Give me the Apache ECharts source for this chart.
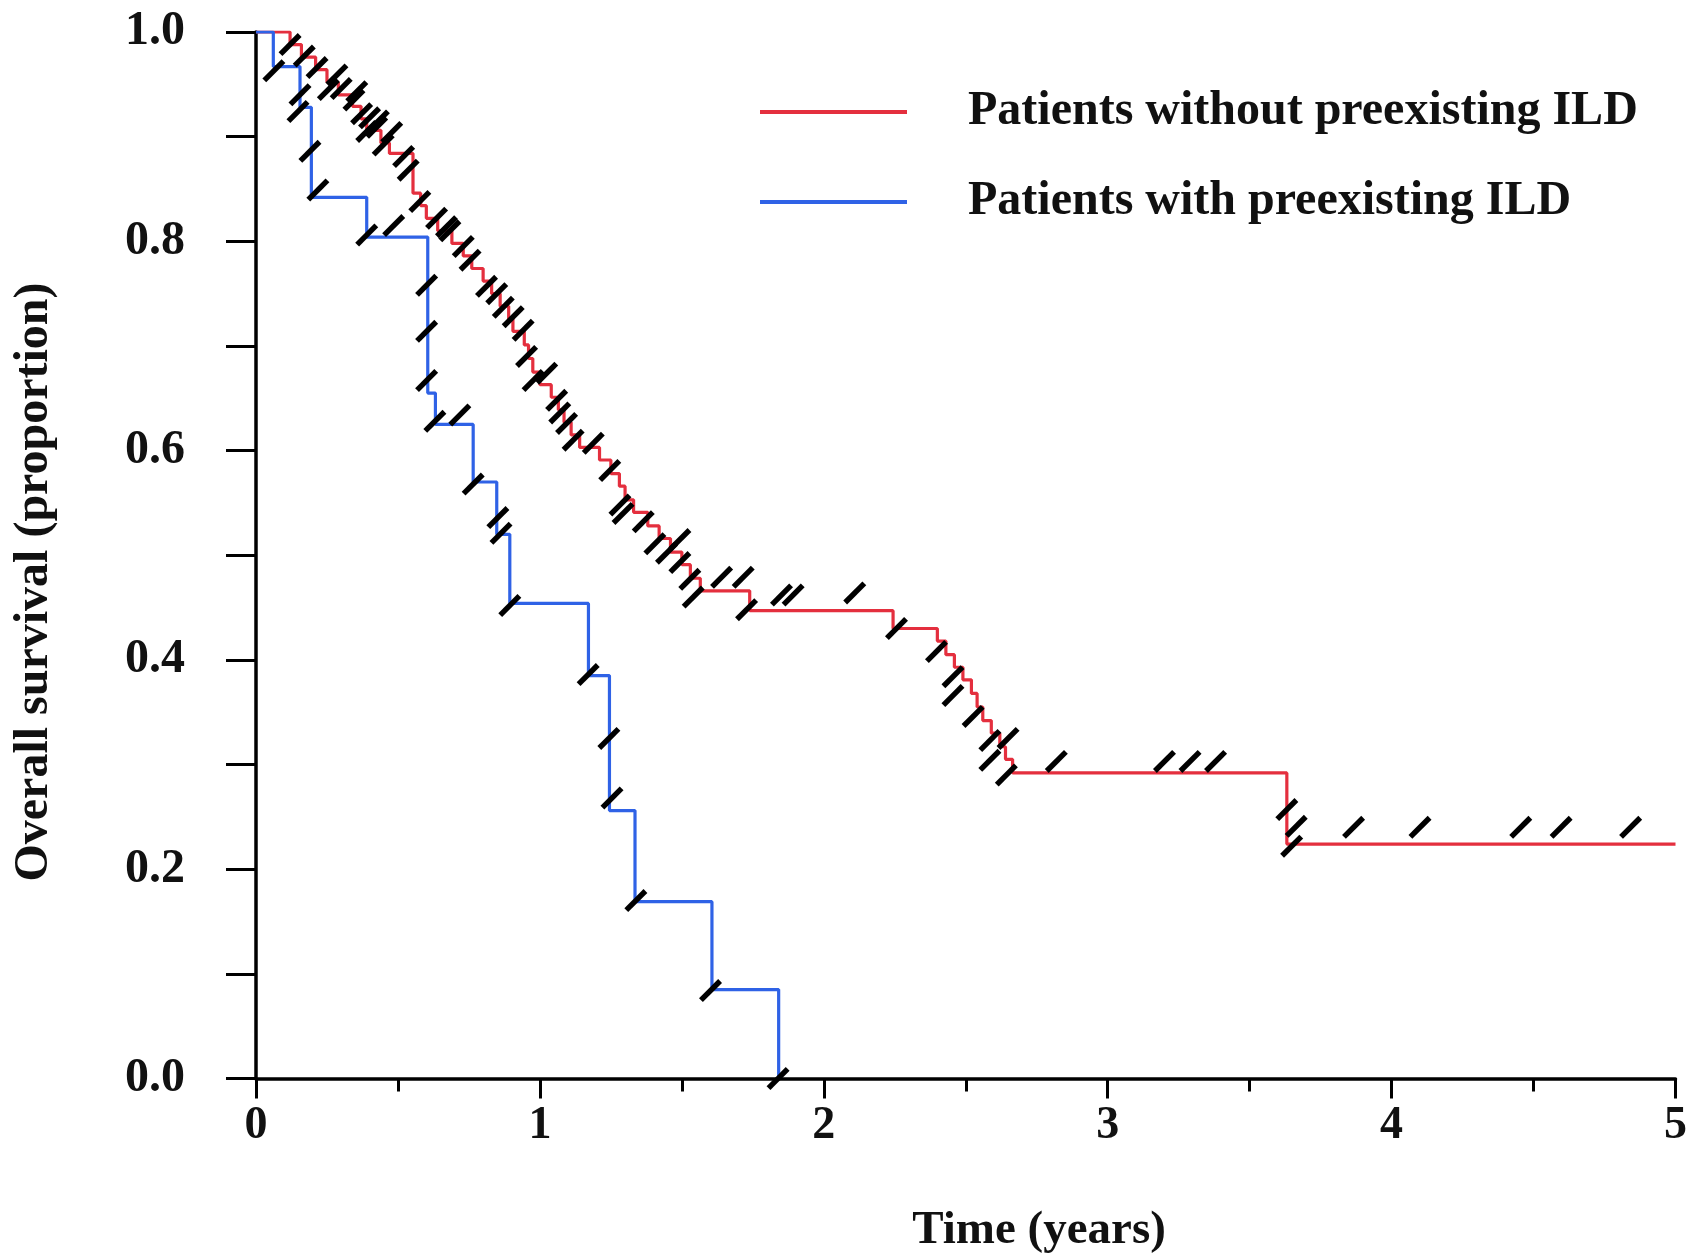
<!DOCTYPE html>
<html><head><meta charset="utf-8">
<script src="https://cdn.jsdelivr.net/npm/echarts@6/dist/echarts.min.js"></script>
<style>html,body{margin:0;padding:0;background:#fff}#c{width:1690px;height:1260px}</style>
</head><body><div id="c"></div>
<script>
// ---- data ----
const groupNames = ['Patients without preexisting ILD', 'Patients with preexisting ILD'];
const xTicks = [0, 1, 2, 3, 4, 5];
const yTicks = [0.0, 0.2, 0.4, 0.6, 0.8, 1.0];
const xTitle = 'Time (years)';
const yTitle = 'Overall survival (proportion)';

// Kaplan-Meier steps [time, survival from this time on]
const redSteps = [
  [0, 1.0], [0.12, 0.988], [0.16, 0.976], [0.21, 0.964], [0.25, 0.952], [0.29, 0.940],
  [0.34, 0.929], [0.37, 0.917], [0.39, 0.906], [0.44, 0.894], [0.47, 0.884],
  [0.553, 0.846], [0.58, 0.834], [0.60, 0.822], [0.64, 0.810], [0.69, 0.798],
  [0.73, 0.786], [0.76, 0.774], [0.80, 0.762], [0.83, 0.750], [0.86, 0.738],
  [0.89, 0.726], [0.905, 0.714], [0.945, 0.701], [0.96, 0.688], [0.975, 0.675],
  [1.00, 0.663], [1.04, 0.651], [1.065, 0.639], [1.085, 0.627], [1.11, 0.615],
  [1.14, 0.603], [1.21, 0.591], [1.25, 0.578], [1.28, 0.566], [1.30, 0.553],
  [1.33, 0.541], [1.38, 0.528], [1.42, 0.516], [1.46, 0.503], [1.50, 0.491],
  [1.53, 0.478], [1.565, 0.466], [1.739, 0.447], [2.244, 0.430], [2.40, 0.418],
  [2.43, 0.405], [2.46, 0.393], [2.49, 0.381], [2.52, 0.368], [2.54, 0.355],
  [2.56, 0.342], [2.59, 0.330], [2.62, 0.317], [2.64, 0.305], [2.665, 0.292],
  [3.631, 0.224], [5.0, 0.224]
];
const blueSteps = [
  [0, 1.0], [0.061, 0.967], [0.155, 0.928], [0.195, 0.842], [0.39, 0.804],
  [0.605, 0.655], [0.632, 0.625], [0.765, 0.570], [0.848, 0.520], [0.894, 0.454],
  [1.171, 0.385], [1.245, 0.256], [1.335, 0.169], [1.606, 0.085], [1.841, 0.0]
];
// censoring marks [time, survival at mark centre]
const redCensor = [
  [0.12, 0.988], [0.17, 0.977], [0.215, 0.966], [0.255, 0.945], [0.285, 0.959],
  [0.30, 0.946], [0.345, 0.935], [0.355, 0.943], [0.372, 0.922], [0.39, 0.905],
  [0.40, 0.918], [0.425, 0.909], [0.431, 0.915], [0.448, 0.892], [0.478, 0.904],
  [0.52, 0.881], [0.536, 0.868], [0.577, 0.838], [0.636, 0.822], [0.671, 0.814],
  [0.683, 0.810], [0.73, 0.795], [0.754, 0.782], [0.812, 0.757], [0.848, 0.750],
  [0.871, 0.737], [0.906, 0.728], [0.941, 0.715], [0.953, 0.690], [0.976, 0.667],
  [1.024, 0.674], [1.059, 0.648], [1.070, 0.636], [1.094, 0.626], [1.117, 0.610],
  [1.188, 0.607], [1.246, 0.581], [1.282, 0.548], [1.293, 0.540], [1.364, 0.532],
  [1.405, 0.511], [1.446, 0.502], [1.493, 0.515], [1.493, 0.493], [1.528, 0.477],
  [1.540, 0.460], [1.640, 0.479], [1.716, 0.479], [1.728, 0.448], [1.851, 0.462],
  [1.892, 0.462], [2.109, 0.464], [2.256, 0.430], [2.397, 0.408], [2.455, 0.384],
  [2.455, 0.366], [2.526, 0.346], [2.585, 0.323], [2.649, 0.325], [2.585, 0.304],
  [2.643, 0.290], [2.819, 0.303], [3.20, 0.303], [3.29, 0.303], [3.38, 0.303],
  [3.631, 0.257], [3.664, 0.241], [3.648, 0.222], [3.866, 0.240], [4.10, 0.240],
  [4.455, 0.240], [4.597, 0.240], [4.842, 0.240]
];
const blueCensor = [
  [0.063, 0.963], [0.148, 0.924], [0.155, 0.940], [0.19, 0.886], [0.218, 0.849],
  [0.39, 0.806], [0.485, 0.815], [0.601, 0.758], [0.601, 0.714], [0.601, 0.667],
  [0.630, 0.628], [0.718, 0.634], [0.765, 0.568], [0.852, 0.536], [0.863, 0.521],
  [0.894, 0.452], [1.170, 0.386], [1.243, 0.325], [1.254, 0.268], [1.338, 0.170],
  [1.601, 0.084], [1.839, 0.0]
];

// ---- chart ----
const FONT = "'Liberation Serif', 'Times New Roman', serif";
const RED = '#e42f3e', BLUE = '#2f62e6';
const slash = 'path://M0,20 L20,0 L24,4 L4,24 Z';
const chart = echarts.init(document.getElementById('c'), null, {renderer: 'canvas'});
const markSeries = (name, data) => ({
  name: name, type: 'scatter', data: data, symbol: slash, symbolSize: 23,
  itemStyle: {color: '#000', opacity: 1}, z: 5, silent: true
});
chart.setOption({
  animation: false,
  backgroundColor: '#fff',
  grid: {left: 256, right: 14, top: 32, bottom: 181.5},
  legend: {
    data: groupNames, orient: 'vertical', left: 755, top: 82,
    itemWidth: 147, itemHeight: 4, itemGap: 40, icon: 'rect',
    textStyle: {fontFamily: FONT, fontWeight: 'bold', fontSize: 48, color: '#111',
      lineHeight: 50, padding: [0, 0, 0, 56]}
  },
  xAxis: {
    type: 'value', min: xTicks[0], max: xTicks[xTicks.length - 1], interval: 1,
    splitLine: {show: false},
    axisLine: {lineStyle: {color: '#000', width: 3.5}},
    axisTick: {length: 20, lineStyle: {color: '#000', width: 3}},
    minorTick: {show: true, splitNumber: 2, length: 13, lineStyle: {color: '#000', width: 3}},
    axisLabel: {margin: 25, fontFamily: FONT, fontWeight: 'bold', fontSize: 46, color: '#111'}
  },
  yAxis: {
    type: 'value', min: yTicks[0], max: yTicks[yTicks.length - 1], interval: 0.2,
    splitLine: {show: false},
    axisLine: {lineStyle: {color: '#000', width: 3.5}},
    axisTick: {length: 30, lineStyle: {color: '#000', width: 3}},
    minorTick: {show: true, splitNumber: 2, length: 30, lineStyle: {color: '#000', width: 3}},
    axisLabel: {margin: 71, fontFamily: FONT, fontWeight: 'bold', fontSize: 48, color: '#111',
      formatter: v => v.toFixed(1)}
  },
  graphic: [
    {type: 'text', x: 1039, y: 1231, style: {text: xTitle, font: 'bold 47px ' + FONT,
      fill: '#111', textAlign: 'center', textVerticalAlign: 'middle'}},
    {type: 'text', x: 35, y: 582, rotation: Math.PI / 2, style: {text: yTitle,
      font: 'bold 48px ' + FONT, fill: '#111', textAlign: 'center', textVerticalAlign: 'middle'}}
  ],
  series: [
    {name: groupNames[0], type: 'line', step: 'end', data: redSteps, showSymbol: false,
      lineStyle: {color: RED, width: 3.2}, itemStyle: {color: RED}, z: 3},
    {name: groupNames[1], type: 'line', step: 'end', data: blueSteps, showSymbol: false,
      lineStyle: {color: BLUE, width: 3.2}, itemStyle: {color: BLUE}, z: 3},
    markSeries('censor-red', redCensor),
    markSeries('censor-blue', blueCensor)
  ]
});
</script>
</body></html>
